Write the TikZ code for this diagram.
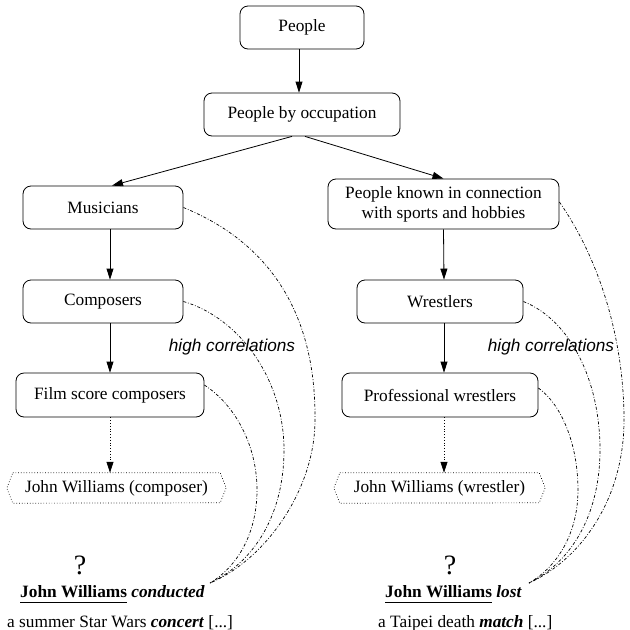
\documentclass[tikz,border=0pt]{standalone}
\usepackage{fontspec}
\setmainfont{Liberation Serif}
\newfontfamily\helv{Liberation Sans}
\usetikzlibrary{arrows.meta}
\newcommand\lowul[1]{\underline{#1\vphantom{gq}}}
\begin{document}
\begin{tikzpicture}[x=1pt,y=-1pt,
  box/.style={draw, line width=0.8pt, rounded corners=8pt, inner sep=0pt, align=center,
    font=\fontsize{17.3}{20}\selectfont},
  hexbox/.style={inner sep=0pt, minimum height=30pt, font=\fontsize{17.3}{20}\selectfont},
  arr/.style={line width=0.8pt, -{Triangle[length=11pt,width=7pt]}},
  dotarr/.style={line width=0.8pt, dotted, -{Triangle[length=11pt,width=7pt]}},
  corr/.style={line width=0.7pt, dash pattern=on 3pt off 1.8pt on 0.8pt off 1.8pt},
  lbl/.style={inner sep=0pt, font=\helv\itshape\fontsize{17.2}{20}\selectfont},
  txt/.style={inner sep=0pt, anchor=base west, font=\fontsize{17.3}{20}\selectfont},
  qm/.style={inner sep=0pt, font=\fontsize{28}{30}\selectfont}]
\useasboundingbox (0,0) rectangle (630,630);

% hierarchy boxes
\node[box, minimum width=124pt, minimum height=43pt] (people) at (302,27.5) {People};
\node[box, minimum width=196pt, minimum height=43pt] (occ) at (302,114.5) {People by occupation};
\node[box, minimum width=160pt, minimum height=43pt] (mus) at (103,207.5) {Musicians};
\node[box, minimum width=231pt, minimum height=50pt] (known) at (443.5,204) {People known in connection\\with sports and hobbies};
\node[box, minimum width=160pt, minimum height=43pt] (comp) at (103,301.5) {Composers};
\node[box, minimum width=166pt, minimum height=43pt] (wres) at (440,301.5) {Wrestlers};
\node[box, minimum width=188pt, minimum height=44pt] (film) at (110,395) {Film score composers};
\node[box, minimum width=196pt, minimum height=44pt] (prof) at (440,395) {Professional wrestlers};

% hexagonal entity nodes
\node[hexbox, minimum width=207pt] (hexL) at (116.5,488) {John Williams (composer)};
\draw[line width=0.7pt, dotted] (hexL.north west) -- (hexL.north east) -- ++(6,15) -- ++(-6,15)
  -- (hexL.south west) -- ++(-6,-15) -- cycle;
\node[hexbox, minimum width=199pt] (hexR) at (439.5,488) {John Williams (wrestler)};
\draw[line width=0.7pt, dotted] (hexR.north west) -- (hexR.north east) -- ++(6,15) -- ++(-6,15)
  -- (hexR.south west) -- ++(-6,-15) -- cycle;

% arrows
\draw[arr] ([xshift=-3pt]people.south) -- ([xshift=-3pt]occ.north);
\draw[arr] ([xshift=-10pt]occ.south) -- ([xshift=9pt]mus.north);
\draw[arr] ([xshift=3pt]occ.south) -- (known.north);
\draw[arr] ([xshift=7pt]mus.south) -- ([xshift=7pt]comp.north);
\draw[arr] ([xshift=7pt]comp.south) -- (film.north);
\draw[arr] (known.south) -- ([xshift=4pt]wres.north);
\draw[arr] ([xshift=4pt]wres.south) -- ([xshift=4pt]prof.north);
\draw[dotarr] (film.south) -- ([xshift=-6.5pt]hexL.north);
\draw[dotarr] ([xshift=4pt]prof.south) -- ([xshift=4.5pt]hexR.north);

% sentences
\node[qm] (qL) at (80,565) {?};
\node[qm] (qR) at (450,565) {?};
\node[txt] (sL) at (20,597) {\lowul{\textbf{John Williams}} \textbf{\textit{conducted}}};
\node[txt] (sL2) at (7,627) {a summer Star Wars \textbf{\textit{concert}} [...]};
\node[txt] (sR) at (385,597) {\lowul{\textbf{John Williams}} \textbf{\textit{lost}}};
\node[txt] (sR2) at (378,627) {a Taipei death \textbf{\textit{match}} [...]};
\coordinate (endL) at (210,583);
\coordinate (endR) at (529,583);

% correlation curves
\draw[corr] (mus.east) .. controls (275,245) and (316,320) .. (315,420)
  .. controls (315,490) and (265,560) .. (endL);
\draw[corr] (comp.east) .. controls (240,318) and (284,380) .. (284,450)
  .. controls (284,510) and (258,560) .. (endL);
\draw[corr] ([yshift=10pt]film.east) .. controls (235,405) and (257,445) .. (257,490)
  .. controls (257,530) and (240,565) .. (endL);
\draw[corr] ([yshift=2pt]known.east) .. controls (600,260) and (624,340) .. (624,420)
  .. controls (624,500) and (580,560) .. (endR);
\draw[corr] (wres.east) .. controls (570,320) and (600,380) .. (600,450)
  .. controls (600,510) and (575,560) .. (endR);
\draw[corr] ([yshift=7pt]prof.east) .. controls (562,405) and (578,445) .. (578,490)
  .. controls (578,530) and (560,565) .. (endR);

% labels
\node[lbl] (hcL) at (232,347) {high correlations};
\node[lbl] (hcR) at (551,347) {high correlations};
\end{tikzpicture}
\end{document}
